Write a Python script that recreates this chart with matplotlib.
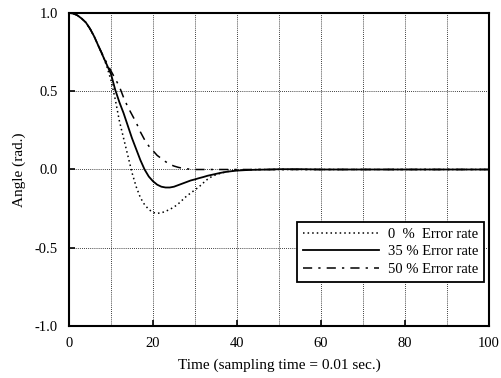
import numpy as np
from matplotlib import pyplot as plt

plt.rcParams['font.family'] = ['Liberation Serif', 'DejaVu Serif']
plt.rcParams['axes.unicode_minus'] = False

# Time steps (x axis)
t_0 = [0, 1, 2, 3, 4, 5, 6, 7, 8, 9, 10, 11, 12, 13, 14, 15, 16, 17, 18, 19,
       20, 21, 22, 23, 24, 25, 26, 27, 28, 29, 30, 31, 32, 33, 34, 35, 36,
       37, 38, 39, 40, 42, 45, 100]
angle_0 = [1.0, 0.997, 0.985, 0.965, 0.94, 0.90, 0.85, 0.79, 0.73, 0.66,
           0.57, 0.45, 0.31, 0.20, 0.09, -0.02, -0.11, -0.18, -0.225, -0.255,
           -0.275, -0.28, -0.277, -0.267, -0.255, -0.24, -0.22, -0.195, -0.17,
           -0.15, -0.13, -0.11, -0.085, -0.062, -0.045, -0.033, -0.025,
           -0.018, -0.012, -0.008, -0.005, -0.002, 0.0, 0.0]

t_35 = [0, 1, 2, 3, 4, 5, 6, 7, 8, 9, 10, 11, 12, 13, 14, 15, 16, 17, 18, 19,
        20, 21, 22, 23, 24, 25, 26, 27, 28, 29, 30, 31, 32, 33, 34, 35, 36,
        37, 38, 39, 40, 42, 44, 46, 48, 50, 55, 60, 100]
angle_35 = [1.0, 0.997, 0.985, 0.965, 0.94, 0.90, 0.85, 0.79, 0.73, 0.67,
            0.61, 0.51, 0.43, 0.36, 0.28, 0.20, 0.13, 0.06, 0.0, -0.045,
            -0.075, -0.097, -0.11, -0.115, -0.115, -0.11, -0.10, -0.09, -0.08,
            -0.07, -0.063, -0.055, -0.048, -0.04, -0.034, -0.028, -0.022,
            -0.017, -0.013, -0.01, -0.007, -0.004, -0.002, -0.001, 0.0,
            0.002, 0.002, 0.0, 0.0]

t_50 = [0, 1, 2, 3, 4, 5, 6, 7, 8, 9, 10, 11, 12, 13, 14, 15, 16, 17, 18, 19,
        20, 21, 22, 23, 24, 25, 26, 27, 28, 29, 30, 100]
angle_50 = [1.0, 0.997, 0.985, 0.965, 0.94, 0.90, 0.85, 0.79, 0.735, 0.68,
            0.63, 0.58, 0.53, 0.46, 0.40, 0.35, 0.30, 0.24, 0.19, 0.15,
            0.12, 0.09, 0.07, 0.05, 0.033, 0.022, 0.014, 0.008, 0.004,
            0.002, 0.0, 0.0]

labels = ["0  %  Error rate", "35 % Error rate", "50 % Error rate"]
xticks = [0, 20, 40, 60, 80, 100]
yticks = [-1.0, -0.5, 0.0, 0.5, 1.0]

fig = plt.figure(figsize=(5.01, 3.78), dpi=100)
ax = fig.add_axes([0.1377, 0.1376, 0.8383, 0.828])

ax.plot(t_0, angle_0, color='black', linestyle=(0, (1, 2)), linewidth=1.1, label=labels[0])
ax.plot(t_35, angle_35, color='black', linestyle='-', linewidth=1.3, label=labels[1])
ax.plot(t_50, angle_50, color='black', linestyle=(0, (6, 4, 1.5, 4)), linewidth=1.1, label=labels[2])

ax.set_xlim(0, 100)
ax.set_ylim(-1.0, 1.0)
ax.set_xticks(xticks)
ax.set_xticks(range(0, 101, 10), minor=True)
ax.set_yticks(yticks)
ax.set_yticklabels(["-1.0", "-0.5", "0.0", "0.5", "1.0"])
ax.grid(True, which='both', color='black', linestyle=(0, (1, 1.5)), linewidth=0.6)
ax.tick_params(which='major', direction='in', length=4, width=1.2, labelsize=10.5, pad=8)
ax.tick_params(which='minor', direction='in', length=0)
for s in ax.spines.values():
    s.set_linewidth(1.5)

ax.set_xlabel("Time (sampling time = 0.01 sec.)", fontsize=11, labelpad=6)
ax.set_ylabel("Angle (rad.)", fontsize=11, labelpad=6)

leg = ax.legend(loc='lower right', bbox_to_anchor=(0.988, 0.141), borderaxespad=0,
                fancybox=False, framealpha=1, edgecolor='black', fontsize=10.5,
                handlelength=5.2, handletextpad=0.6, labelspacing=0.3)
leg.get_frame().set_linewidth(1.3)

fig.savefig("out.png", dpi=100)
